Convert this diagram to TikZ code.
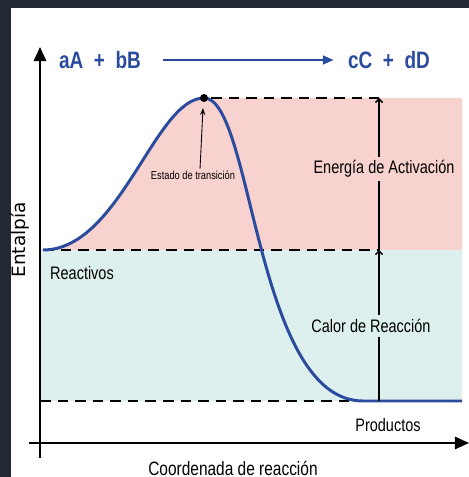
\documentclass[tikz,border=0pt]{standalone}
\usepackage{fontspec}
\setmainfont{Liberation Sans}[FakeStretch=0.8]
\newfontfamily\ejefont{DejaVu Sans}
\usetikzlibrary{arrows.meta}
\definecolor{curva}{HTML}{2B4C9E}
\definecolor{rosa}{HTML}{F8D2CE}
\definecolor{celeste}{HTML}{DDF0EE}
\definecolor{marco}{HTML}{222935}
\tikzset{
  eje/.style={line width=1.2pt,-{Triangle[length=8pt,width=7pt]}},
  nivel/.style={line width=1.6pt,dash pattern=on 6pt off 4pt},
  cota/.style={line width=0.9pt},
  rotulo/.style={font=\fontsize{10.3}{12}\selectfont,inner sep=2pt},
  ecuacion/.style={font=\fontsize{13.5}{15}\selectfont\bfseries,text=curva,inner sep=1pt},
}
\begin{document}
\begin{tikzpicture}[x=0.02cm,y=0.02cm]
\useasboundingbox (-40,-34) rectangle (429,443);
\fill[marco] (-40,-34) rectangle (-29,443);
\fill[marco] (-40,435) rectangle (429,443);
% niveles de energia
\coordinate (R) at (3,193);
\coordinate (T) at (164,345);
\coordinate (P) at (323,42);
\coordinate (Pf) at (422,42);
\coordinate (A1) at (339,345);
\coordinate (A2) at (339,193);
\coordinate (A3) at (339,42);
% zonas de color
\fill[rosa] (R) .. controls (80,193) and (115,345) .. (T) -- (422,345) -- (422,193) -- cycle;
\fill[celeste] (0,42) rectangle (422,193);
% ejes
\coordinate (O1) at (0,-15);
\coordinate (Y) at (0,396);
\coordinate (O2) at (-11,0);
\coordinate (X) at (429,0);
\draw[eje] (O1) -- (Y);
\draw[eje] (O2) -- (X);
% lineas a trazos
\draw[nivel] ([xshift=4pt]T) -- (A1);
\draw[nivel] (R) -- (A2);
\draw[nivel] (0,42) -- (P);
% curva
\draw[curva,line width=1.7pt] (R) .. controls (80,193) and (115,345) .. (T)
  .. controls (213,345) and (215,42) .. (P) -- (Pf);
\fill (T) circle (4);
% rotulos
\node[rotulo] (ea) at (344,274) {Energía de Activación};
\node[rotulo] (cr) at (331,117) {Calor de Reacción};
\draw[cota,-{Straight Barb[length=2pt,width=4pt]}] (ea.north -| A1) -- (A1);
\draw[cota] (ea.south -| A1) -- (A2);
\draw[cota,-{Straight Barb[length=2pt,width=4pt]}] (cr.north -| A2) -- (A2);
\draw[cota] (cr.south -| A3) -- (A3);
\node[font=\fontsize{6.6}{8}\selectfont,inner sep=1pt] (et) at (153,268) {Estado de transición};
\draw[line width=0.5pt,-{Stealth[length=4pt,width=3pt]}] ([xshift=4pt]et.north) -- ([shift={(-1,-10)}]T);
\node[rotulo] (reac) at (42,170) {Reactivos};
\node[rotulo] (prod) at (348,18) {Productos};
\node[font=\fontsize{11}{13}\selectfont] (cdr) at (193,-25) {Coordenada de reacción};
\node[rotate=90,font=\ejefont\fontsize{10.5}{12}\selectfont] (ent) at (-20,203) {Entalpía};
% ecuacion
\node[ecuacion] (izq) at (60,383) {aA~ + ~bB};
\node[ecuacion] (der) at (349,383) {cC~ + ~dD};
\draw[curva,line width=1.1pt,-{Triangle[length=6pt,width=5pt]},shorten <=0.4cm,shorten >=0.25cm] (izq) -- (der);
\end{tikzpicture}
\end{document}
